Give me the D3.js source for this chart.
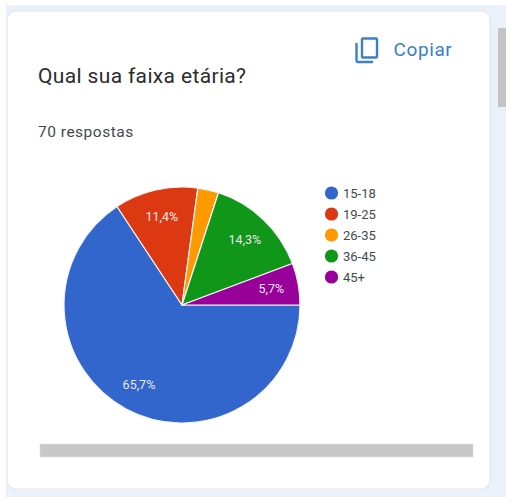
<!DOCTYPE html>
<html>
<head>
<meta charset="utf-8">
<script src="https://cdn.jsdelivr.net/npm/d3@7"></script>
<style>
  html, body { margin: 0; padding: 0; background: #fff; overflow: hidden; }
  svg { display: block; font-family: Roboto, sans-serif; }
</style>
</head>
<body>
<svg id="chart" width="506" height="497"></svg>
<script>
// Survey responses per age bracket (70 in total)
const categories = ["15-18", "19-25", "26-35", "36-45", "45+"];
const counts = [46, 8, 2, 10, 4];
const sliceLabels = ["65,7%", "11,4%", "", "14,3%", "5,7%"];
const colors = ["#3366cc", "#dc3912", "#ff9900", "#109618", "#990099"];
const questionTitle = "Qual sua faixa etária?";
const responseNote = "70 respostas";
const copyLabel = "Copiar";

const svg = d3.select("#chart");

// Page backdrop and card
svg.append("rect").attr("x", 6).attr("y", 5).attr("width", 500).attr("height", 492).attr("fill", "#ebf1fb");
svg.append("rect").attr("x", 7).attr("y", 11).attr("width", 483).attr("height", 478).attr("rx", 9)
  .attr("fill", "#fff").attr("stroke", "#e2e5ea").attr("stroke-width", 1);

// Page scrollbar thumb
svg.append("rect").attr("x", 498).attr("y", 28).attr("width", 8).attr("height", 79).attr("fill", "#c4c4c4");

// Heading
svg.append("text").attr("x", 38).attr("y", 83).attr("font-size", 21).attr("letter-spacing", 0.35)
  .attr("fill", "#2b2c2f").text(questionTitle);
svg.append("text").attr("x", 38).attr("y", 137).attr("font-size", 15.5).attr("letter-spacing", 0.5)
  .attr("fill", "#45484c").text(responseNote);

// Copy button: two overlapping sheets plus its label
const copyIcon = svg.append("g").attr("fill", "none").attr("stroke", "#3b80c8").attr("stroke-width", 2.4);
copyIcon.append("rect").attr("x", 362).attr("y", 38.5).attr("width", 15).attr("height", 19).attr("rx", 1);
copyIcon.append("path").attr("d", "M356.5 43 V60.5 a1.5 1.5 0 0 0 1.5 1.5 H373");
svg.append("text").attr("x", 393.5).attr("y", 55.5).attr("font-size", 19).attr("font-weight", 400)
  .attr("letter-spacing", 0.6).attr("fill", "#3b80c8").text(copyLabel);

// Pie, starting at three o'clock and running clockwise
const cx = 182, cy = 305, radius = 118;
const pie = d3.pie().sort(null).startAngle(Math.PI / 2).endAngle(Math.PI * 2.5);
const arc = d3.arc().innerRadius(0).outerRadius(radius);
const labelArc = d3.arc().innerRadius(radius * 0.77).outerRadius(radius * 0.77);
const arcs = pie(counts);

const pieGroup = svg.append("g").attr("transform", `translate(${cx},${cy})`);
pieGroup.selectAll("path").data(arcs).join("path")
  .attr("d", arc)
  .attr("fill", (d, i) => colors[i])
  .attr("stroke", "#f4f4f4")
  .attr("stroke-width", 1.2)
  .attr("stroke-linejoin", "round");

pieGroup.selectAll("text").data(arcs).join("text")
  .attr("transform", d => `translate(${labelArc.centroid(d)})`)
  .attr("text-anchor", "middle")
  .attr("dy", "0.35em")
  .attr("font-size", 12.5)
  .attr("fill", "#e9e9e9")
  .text((d, i) => sliceLabels[i]);

// Legend
const legendY = d3.scalePoint().domain(categories).range([193, 277]);
const legend = svg.append("g").selectAll("g").data(categories).join("g")
  .attr("transform", d => `translate(0,${legendY(d)})`);
legend.append("circle").attr("cx", 331.5).attr("r", 6.6).attr("fill", (d, i) => colors[i]);
legend.append("text").attr("x", 343).attr("dy", "0.36em").attr("font-size", 13)
  .attr("fill", "#45484c").text(d => d);

// Horizontal scroll track under the chart
svg.append("rect").attr("x", 40).attr("y", 444).attr("width", 433).attr("height", 13)
  .attr("fill", "#c8c8c8").attr("stroke", "#dcdcdc").attr("stroke-width", 0.5);
</script>
</body>
</html>
